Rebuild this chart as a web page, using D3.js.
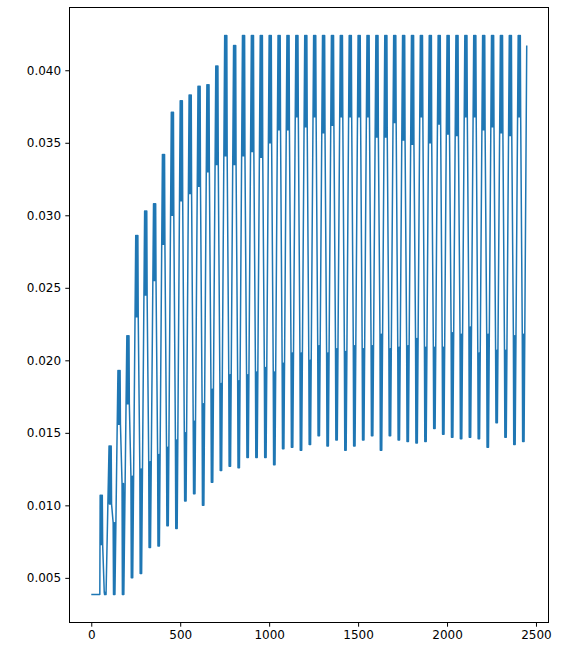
<!DOCTYPE html>
<html>
<head>
<meta charset="utf-8">
<script src="https://cdn.jsdelivr.net/npm/d3@7"></script>
<style>
  html, body { margin: 0; padding: 0; background: #fff; }
  svg { display: block; }
  text { font-family: "DejaVu Sans", sans-serif; }
</style>
</head>
<body>
<svg id="chart" width="563" height="645"></svg>
<script>
// ---- series description -------------------------------------------------
// Flat starting level before the first spike, and the sample index of that spike.
const baseline = 0.00385;
const firstRise = 48;
const period = 50;          // samples per cycle
const lastIndex = 2448;     // final sample index
const lastValue = 0.0417;   // final sample value

// Per-cycle levels (one entry per cycle).
const peaks = [
  0.0107, 0.0141, 0.0193, 0.0217, 0.0286, 0.0303, 0.0308, 0.0342, 0.0371, 0.0379,
  0.0383, 0.0389, 0.0390, 0.0403, 0.0424, 0.0417, 0.0424, 0.0424, 0.0424, 0.0424,
  0.0424, 0.0424, 0.0424, 0.0424, 0.0424, 0.0424, 0.0424, 0.0424, 0.0424, 0.0424,
  0.0424, 0.0424, 0.0424, 0.0424, 0.0424, 0.0424, 0.0424, 0.0424, 0.0424, 0.0424,
  0.0424, 0.0424, 0.0424, 0.0424, 0.0424, 0.0424, 0.0424, 0.0424
];
const upperLows = [
  0.0073, 0.0101, 0.0156, 0.0170, 0.0230, 0.0245, 0.0255, 0.0280, 0.0300, 0.0310,
  0.0315, 0.0320, 0.0330, 0.0335, 0.0341, 0.0335, 0.0341, 0.0344, 0.0340, 0.0350,
  0.0359, 0.0359, 0.0368, 0.0361, 0.0368, 0.0357, 0.0362, 0.0368, 0.0368, 0.0368,
  0.0368, 0.0354, 0.0354, 0.0364, 0.0352, 0.0349, 0.0368, 0.0350, 0.0363, 0.0356,
  0.0355, 0.0368, 0.0368, 0.0359, 0.0361, 0.0357, 0.0355, 0.0368
];
const lowerHighs = [
  0.0040, 0.0088, 0.0115, 0.0120, 0.0125, 0.0130, 0.0135, 0.0140, 0.0145, 0.0150,
  0.0158, 0.0170, 0.0180, 0.0184, 0.0190, 0.0186, 0.0190, 0.0192, 0.0195, 0.0192,
  0.0198, 0.0205, 0.0205, 0.0200, 0.0210, 0.0205, 0.0208, 0.0206, 0.0210, 0.0208,
  0.0210, 0.0218, 0.0208, 0.0209, 0.0210, 0.0215, 0.0209, 0.0209, 0.0209, 0.0219,
  0.0218, 0.0223, 0.0205, 0.0218, 0.0207, 0.0207, 0.0217, 0.0218
];
const troughs = [
  0.00385, 0.00385, 0.00385, 0.0050, 0.0053, 0.0071, 0.0072, 0.0086, 0.0084, 0.0103,
  0.0108, 0.0100, 0.0116, 0.0124, 0.0127, 0.0126, 0.0133, 0.0133, 0.0133, 0.0128,
  0.0139, 0.0140, 0.0138, 0.0142, 0.0148, 0.0141, 0.0145, 0.0138, 0.0141, 0.0145,
  0.0148, 0.0138, 0.0148, 0.0145, 0.0144, 0.0143, 0.0144, 0.0153, 0.0149, 0.0147,
  0.0146, 0.0147, 0.0146, 0.0140, 0.0157, 0.0147, 0.0142, 0.0144
];

// Sample offsets (from a cycle's rise) where the upper and lower bands turn.
const upperPhase = [2, 4, 6, 8, 10, 12, 14, 16];
const lowerPhase = [25, 27, 29, 31, 33, 35];

// Axis ticks
const xTicks = [0, 500, 1000, 1500, 2000, 2500];
const yTicks = [0.005, 0.010, 0.015, 0.020, 0.025, 0.030, 0.035, 0.040];

// ---- build the polyline ------------------------------------------------
const points = [[0, baseline], [firstRise, baseline]];
peaks.forEach((p, k) => {
  const s = firstRise + k * period;
  upperPhase.forEach((o, i) => points.push([s + o, i % 2 ? upperLows[k] : p]));
  lowerPhase.forEach((o, i) => points.push([s + o, i % 2 ? troughs[k] : lowerHighs[k]]));
});
points.push([lastIndex, lastValue]);

// ---- layout ------------------------------------------------------------
const plot = { left: 69.5, right: 548.5, top: 7.5, bottom: 622.5 };

const xMin = 0, xMax = lastIndex;
const xPad = (xMax - xMin) * 0.05;
const yMin = d3.min(points, d => d[1]), yMax = d3.max(points, d => d[1]);
const yPad = (yMax - yMin) * 0.05;

const x = d3.scaleLinear().domain([xMin - xPad, xMax + xPad]).range([plot.left, plot.right]);
const y = d3.scaleLinear().domain([yMin - yPad, yMax + yPad]).range([plot.bottom, plot.top]);

const svg = d3.select("#chart");

// data line
svg.append("path")
  .datum(points)
  .attr("fill", "none")
  .attr("stroke", "#1f77b4")
  .attr("stroke-width", 1.5)
  .attr("stroke-linejoin", "round")
  .attr("d", d3.line().x(d => x(d[0])).y(d => y(d[1])));

// axes
const xAxis = svg.append("g")
  .attr("transform", `translate(0,${plot.bottom})`)
  .call(d3.axisBottom(x).tickValues(xTicks).tickFormat(d3.format("d"))
        .tickSize(4.2).tickPadding(4.2).tickSizeOuter(0));
const yAxis = svg.append("g")
  .attr("transform", `translate(${plot.left},0)`)
  .call(d3.axisLeft(y).tickValues(yTicks).tickFormat(d3.format(".3f"))
        .tickSize(4.2).tickPadding(4.2).tickSizeOuter(0));

[xAxis, yAxis].forEach(g => {
  g.select(".domain").remove();
  g.selectAll(".tick line").attr("stroke", "#000").attr("stroke-width", 1);
  g.selectAll(".tick text")
    .attr("fill", "#000")
    .style("font-family", "'DejaVu Sans', sans-serif")
    .style("font-size", "12px");
});

// frame
svg.append("rect")
  .attr("x", plot.left).attr("y", plot.top)
  .attr("width", plot.right - plot.left)
  .attr("height", plot.bottom - plot.top)
  .attr("fill", "none")
  .attr("stroke", "#000")
  .attr("stroke-width", 1);
</script>
</body>
</html>
